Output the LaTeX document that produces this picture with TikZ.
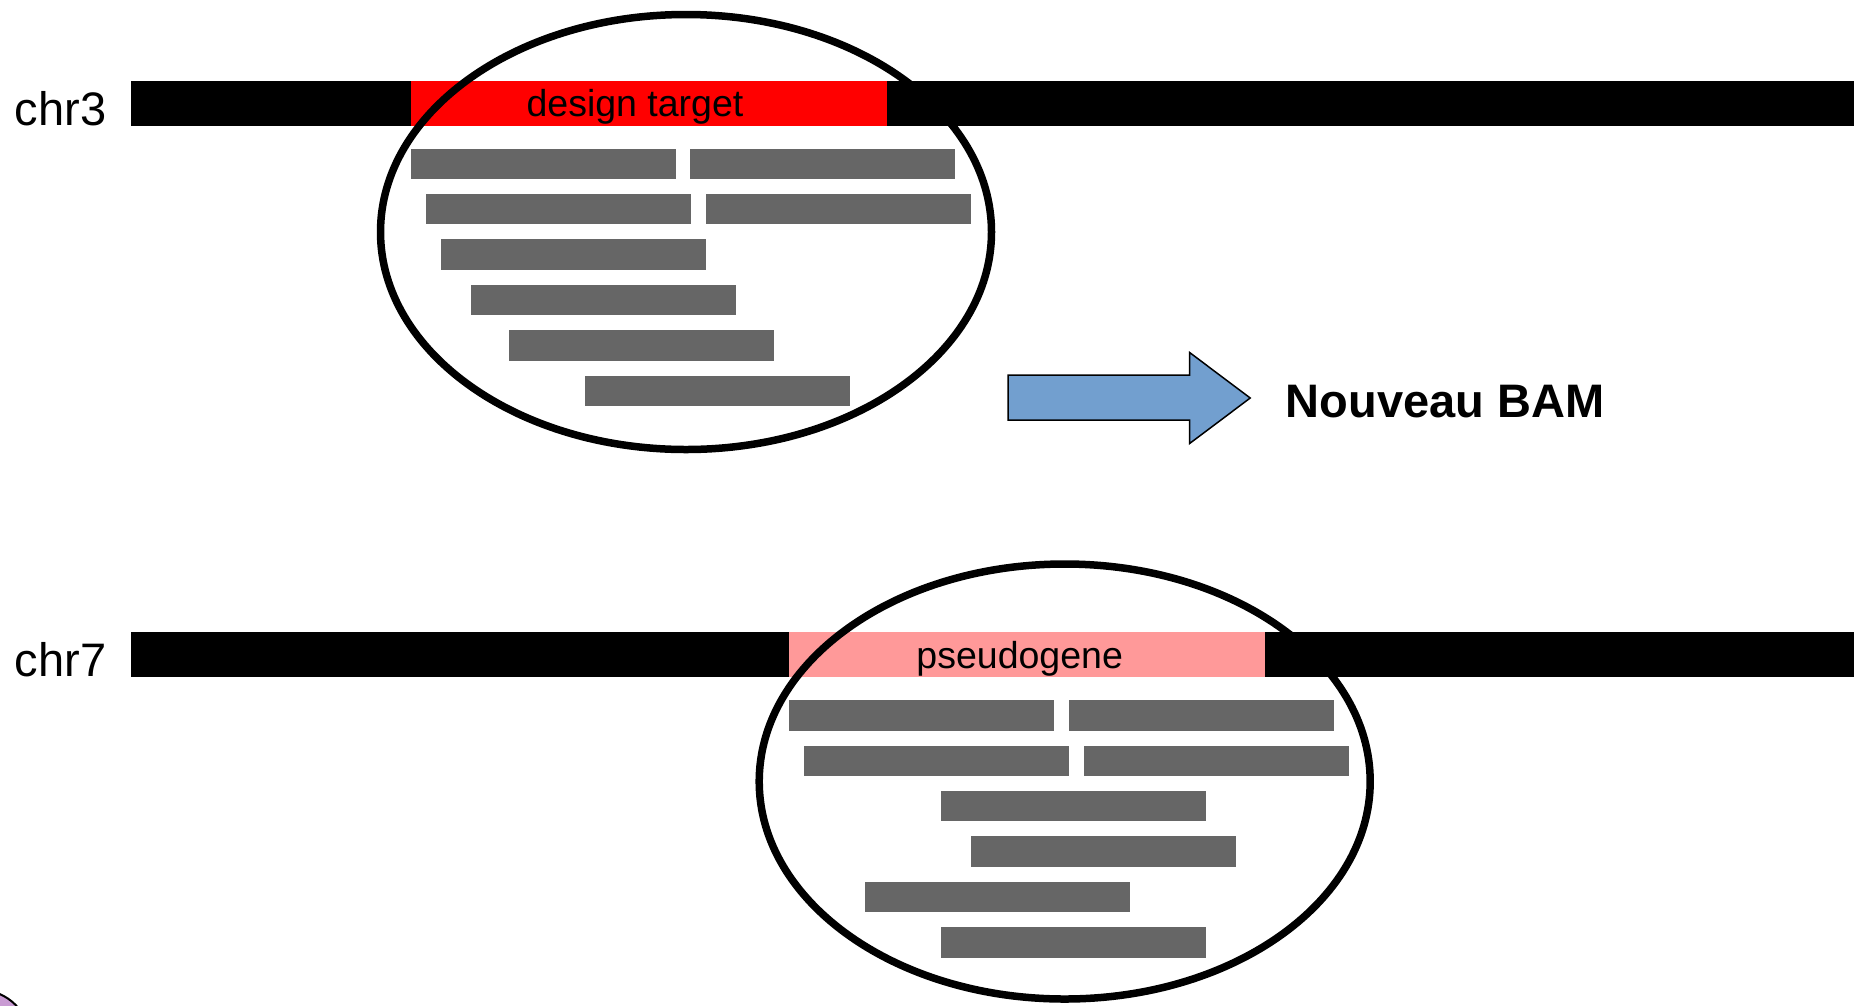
\documentclass[tikz,border=0pt]{standalone}
\usepackage{fontspec}
\setmainfont{Liberation Sans}
\usetikzlibrary{shapes.geometric}
\definecolor{readgray}{HTML}{666666}
\definecolor{targetred}{HTML}{FF0000}
\definecolor{pseudopink}{HTML}{FF9999}
\definecolor{arrowblue}{HTML}{729FCF}
\definecolor{lilac}{HTML}{C99BD3}
\begin{document}
\begin{tikzpicture}[x=1pt,y=-1pt,
  chrbar/.style={fill=black, anchor=north west, inner sep=0, outer sep=0,
    minimum width=1723, minimum height=45},
  region/.style={anchor=north west, inner sep=0, outer sep=0,
    minimum width=476.5, minimum height=45},
  read/.style={fill=readgray, anchor=north west, inner sep=0, outer sep=0,
    minimum width=265, minimum height=30.4},
  zone/.style={draw=black, line width=7.5pt, ellipse, inner sep=0, outer sep=0,
    minimum width=611, minimum height=435},
  chrlabel/.style={font=\fontsize{47}{56}\selectfont, anchor=base, inner sep=0},
  regionlabel/.style={font=\fontsize{37.5}{45}\selectfont, anchor=base, inner sep=0},
  bamlabel/.style={font=\bfseries\fontsize{47}{56}\selectfont, anchor=base, inner sep=0},
  bigarrow/.style={fill=arrowblue, draw=black, line width=1.5pt, line join=miter},
]
\useasboundingbox (0,0) rectangle (1860,1005);

% partly visible shape in the lower left corner
\begin{scope}
  \clip (0,0) rectangle (1860,1005);
  \draw[fill=lilac, line width=2pt] (-20,1040) circle[radius=50];
\end{scope}

% ---- chromosome 3 ----
\node[chrlabel] (lab3) at (60.5,125.7) {chr3};
\node[chrbar] (chr3) at (131,80.7) {};
\node[region, fill=targetred] (target) at (410.8,80.7) {};
\node[regionlabel] (targetlab) at (635,116.7) {design target};
\foreach \dx/\row [count=\i] in {0/0, 279.5/0, 15.3/1, 295.3/1, 30.4/2, 60.4/3, 98.4/4, 173.9/5}
  \node[read] (ra\i) at ({410.8+\dx},{148.5+45.4*\row}) {};
\node[zone] (zone3) at (686,232) {};

% ---- chromosome 7 ----
\node[chrlabel] (lab7) at (60.5,676.7) {chr7};
\node[chrbar] (chr7) at (131,632.3) {};
\node[region, fill=pseudopink] (pseudo) at (788.8,632.3) {};
\node[regionlabel] (pseudolab) at (1019.7,668.3) {pseudogene};
\foreach \dx/\row [count=\i] in {0/0, 279.8/0, 15.2/1, 295.2/1, 151.7/2, 181.7/3, 75.8/4, 151.7/5}
  \node[read] (rb\i) at ({788.8+\dx},{700.1+45.4*\row}) {};
\node[zone] (zone7) at (1064.7,781.5) {};

% ---- result ----
\draw[bigarrow] (1008.2,375) -- (1189.6,375) -- (1189.6,352.5) -- (1250.2,398)
  -- (1189.6,443.5) -- (1189.6,420) -- (1008.2,420) -- cycle;
\node[bamlabel] (bam) at (1445,417) {Nouveau BAM};
\end{tikzpicture}
\end{document}
